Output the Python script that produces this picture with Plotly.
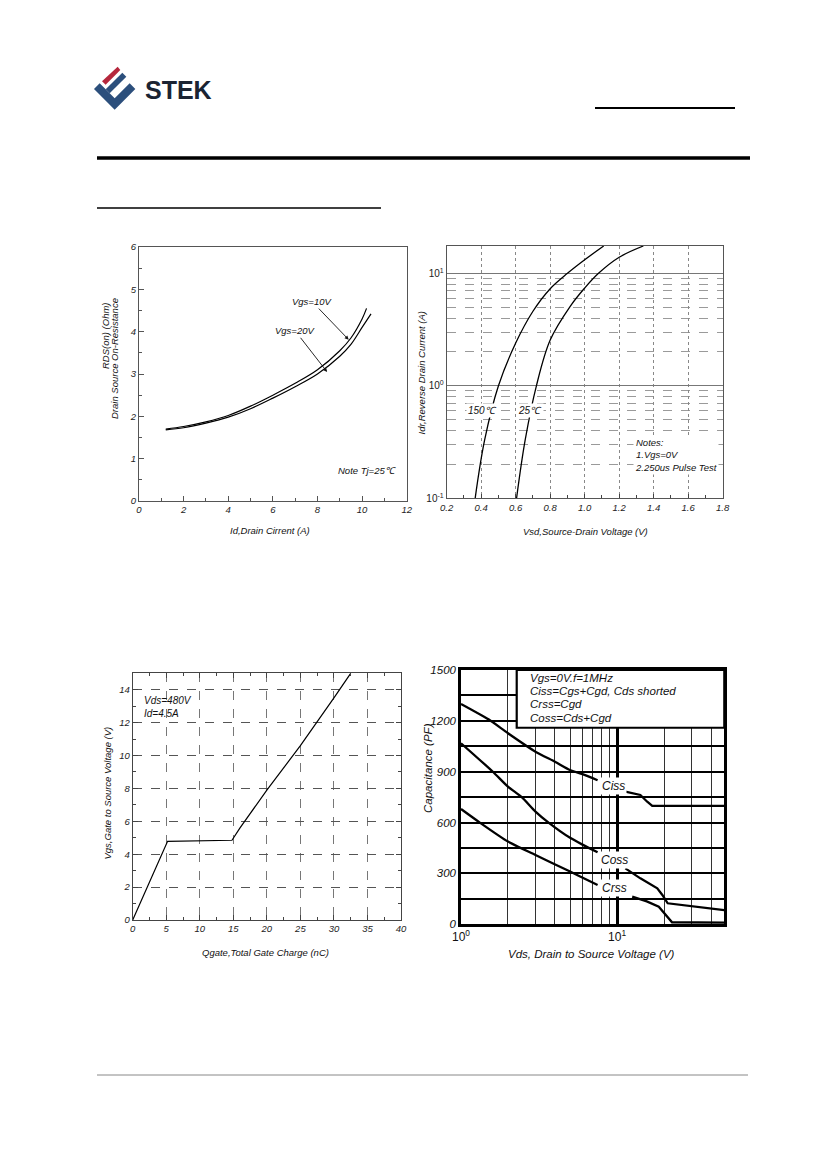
import math
import plotly.graph_objects as go

# ---------------- data ----------------
# Fig.1  RDS(on) vs drain current
id_vgs10 = [1.2, 2, 3, 4, 5, 6, 7, 8, 9, 9.5, 10, 10.2]
rds_vgs10 = [1.70, 1.76, 1.87, 2.02, 2.24, 2.50, 2.78, 3.10, 3.55, 3.85, 4.30, 4.55]
id_vgs20 = [1.2, 2, 3, 4, 5, 6, 7, 8, 9, 9.5, 10, 10.4]
rds_vgs20 = [1.68, 1.73, 1.84, 1.98, 2.18, 2.43, 2.70, 3.00, 3.42, 3.70, 4.10, 4.42]

# Fig.2  body diode forward voltage
vsd_150 = [0.365, 0.42, 0.50, 0.60, 0.70, 0.80, 0.90, 1.00, 1.11]
idr_150 = [0.1, 0.33, 1.0, 2.4, 4.6, 7.3, 10, 13.2, 17.5]
vsd_25 = [0.605, 0.655, 0.72, 0.80, 0.915, 1.00, 1.08, 1.20, 1.34]
idr_25 = [0.1, 0.33, 1.0, 2.55, 5.06, 7.4, 10, 13.9, 17.5]

# Fig.3  gate charge
qg = [0, 5.2, 14.8, 16, 20, 25, 30, 32.5]
vgs = [0, 4.78, 4.85, 5.6, 7.9, 10.6, 13.5, 15]

# Fig.4  capacitance (each curve is broken where its label sits)
ciss_v1 = [1, 1.5, 2, 3, 4, 5, 6, 7.5]
ciss_c1 = [1300, 1209, 1127, 1018, 959, 910, 886, 850]
ciss_v2 = [11.3, 14.1, 15.6, 16.8, 48.6]
ciss_c2 = [782, 763, 723, 698, 698]
coss_v1 = [1, 1.6, 2, 2.45, 3, 3.64, 5, 6, 7.5]
coss_c1 = [1068, 900, 812, 750, 665, 600, 510, 470, 425]
coss_v2 = [11.3, 14.1, 18.1, 19.5, 21.1, 29.6, 48.6]
coss_c2 = [330, 271, 212, 173, 124, 108, 84]
crss_v1 = [1, 1.32, 2, 3, 5, 6.5, 7.5]
crss_c1 = [680, 600, 488, 409, 311, 260, 232]
crss_v2 = [12.5, 15.5, 18.5, 20.4, 22.5, 48.6]
crss_c2 = [163, 135, 104, 55, 12, 10]

log_minor = [0.2, 0.3, 0.4, 0.5, 0.6, 0.7, 0.8, 0.9, 2, 3, 4, 5, 6, 7, 8, 9]
cap_minor = [2, 3, 4, 5, 6, 7, 8, 9, 20, 30, 40]

# ---------------- page helpers ----------------
# the page body keeps an 8px margin, so the figure is drawn 16px smaller
# and page pixel positions are shifted by 8
OFF = 8
W, H = 826 - 2 * OFF, 1169 - 2 * OFF
FONT = "Liberation Sans"


def px(x):
    return (x - OFF) / W


def py(y):
    return 1 - (y - OFF) / H


fig = go.Figure()

# Fig.1 curves
fig.add_trace(go.Scatter(x=id_vgs10, y=rds_vgs10, mode="lines", line=dict(color="black", width=1.2, shape="spline"),
                         xaxis="x", yaxis="y", showlegend=False))
fig.add_trace(go.Scatter(x=id_vgs20, y=rds_vgs20, mode="lines", line=dict(color="black", width=1.2, shape="spline"),
                         xaxis="x", yaxis="y", showlegend=False))

# Fig.2 curves
fig.add_trace(go.Scatter(x=vsd_150, y=idr_150, mode="lines", line=dict(color="black", width=1.3, shape="spline"),
                         xaxis="x2", yaxis="y2", showlegend=False))
fig.add_trace(go.Scatter(x=vsd_25, y=idr_25, mode="lines", line=dict(color="black", width=1.3, shape="spline"),
                         xaxis="x2", yaxis="y2", showlegend=False))

# Fig.3 curve
fig.add_trace(go.Scatter(x=qg, y=vgs, mode="lines", line=dict(color="black", width=1.2),
                         xaxis="x3", yaxis="y3", showlegend=False))

# Fig.4 curves: smooth first parts, sharp-cornered tails
for xs, ys in [(ciss_v1, ciss_c1), (coss_v1, coss_c1), (crss_v1, crss_c1)]:
    fig.add_trace(go.Scatter(x=xs, y=ys, mode="lines",
                             line=dict(color="black", width=2.3, shape="spline", smoothing=0.6),
                             xaxis="x4", yaxis="y4", showlegend=False))
for xs, ys in [(ciss_v2, ciss_c2), (coss_v2, coss_c2), (crss_v2, crss_c2)]:
    fig.add_trace(go.Scatter(x=xs, y=ys, mode="lines", line=dict(color="black", width=2.3),
                             xaxis="x4", yaxis="y4", showlegend=False))

tick_small = dict(family=FONT, size=9.5, color="#222", style="italic")
tick_big = dict(family=FONT, size=11.5, color="#111", style="italic")

box1 = dict(showline=True, mirror=True, linecolor="#555", linewidth=1, ticks="inside", automargin=False,
            tickcolor="#555", ticklen=5, showgrid=False, zeroline=False, tickfont=tick_small)

fig.update_layout(
    width=W, height=H, margin=dict(l=0, r=0, t=0, b=0, pad=0), autosize=False,
    paper_bgcolor="white", plot_bgcolor="white", showlegend=False,
    # Fig.1
    xaxis=dict(box1, domain=[px(139), px(406.7)], range=[0, 12], dtick=2, anchor="y",
               minor=dict(dtick=1, ticks="inside", ticklen=3, tickcolor="#555")),
    yaxis=dict(box1, domain=[py(501), py(247)], range=[0, 6], dtick=1, anchor="x",
               minor=dict(dtick=0.5, ticks="inside", ticklen=3, tickcolor="#555")),
    # Fig.2
    xaxis2=dict(showline=True, mirror=True, linecolor="#555", linewidth=1, ticks="inside", ticklen=4,
                tickcolor="#444", domain=[px(446.7), px(722.7)], range=[0.2, 1.8], dtick=0.2,
                tickformat=".1f", anchor="y2", zeroline=False, tickfont=tick_small, automargin=False,
                showgrid=True, gridcolor="#888", gridwidth=1, griddash="dot",
                minor=dict(dtick=0.1, ticks="inside", ticklen=3, tickcolor="#444")),
    yaxis2=dict(type="log", showline=True, mirror=True, linecolor="#555", linewidth=1, ticks="",
                domain=[py(498.3), py(246)], range=[-1, 1.243], anchor="x2", automargin=False,
                tickvals=[0.1, 1, 10], ticktext=["10<sup>-1</sup>", "10<sup>0</sup>", "10<sup>1</sup>"],
                tickfont=dict(family=FONT, size=10, color="#222"),
                showgrid=True, gridcolor="#777", gridwidth=1,
                minor=dict(tickvals=log_minor, showgrid=True, gridcolor="#9a9a9a",
                           gridwidth=0.8, griddash="dash")),
    # Fig.3
    xaxis3=dict(showline=True, mirror="ticks", linecolor="#444", linewidth=1, ticks="inside", ticklen=5,
                tickcolor="#444", domain=[px(132.7), px(401)], range=[0, 40], dtick=5, anchor="y3",
                zeroline=False, tickfont=tick_small, showgrid=True, gridcolor="#777", gridwidth=1,
                griddash="dash", automargin=False,
                minor=dict(dtick=2.5, ticks="inside", ticklen=3, tickcolor="#444")),
    yaxis3=dict(showline=True, mirror="ticks", linecolor="#444", linewidth=1, ticks="inside", ticklen=5,
                tickcolor="#444", domain=[py(920), py(673.3)], range=[0, 15], dtick=2, anchor="x3",
                zeroline=False, tickfont=tick_small, showgrid=True, gridcolor="#555", gridwidth=1,
                griddash="dash", automargin=False,
                minor=dict(dtick=1, ticks="inside", ticklen=3, tickcolor="#444")),
    # Fig.4
    xaxis4=dict(type="log", showline=True, mirror=True, linecolor="black", linewidth=2.5, ticks="",
                domain=[px(461), px(724.3)], range=[0, 1.687], anchor="y4", automargin=False,
                tickvals=[1, 10], ticktext=["10<sup>0</sup>", "10<sup>1</sup>"],
                tickfont=dict(family=FONT, size=12, color="#111"),
                showgrid=True, gridcolor="black", gridwidth=3,
                minor=dict(tickvals=cap_minor, showgrid=True, gridcolor="#333", gridwidth=1.4)),
    yaxis4=dict(showline=True, mirror=True, linecolor="black", linewidth=2.5, ticks="",
                domain=[py(924.3), py(670)], range=[0, 1500], dtick=300, anchor="x4",
                zeroline=False, tickfont=tick_big, automargin=False,
                showgrid=True, gridcolor="black", gridwidth=2,
                minor=dict(dtick=150, showgrid=True, gridcolor="black", gridwidth=2)),
)

ann = []


def text(x, y, s, size=9.5, xref="paper", yref="paper", angle=0, xanchor="center", **kw):
    ann.append(dict(x=x, y=y, text=s, xref=xref, yref=yref, showarrow=False, textangle=angle,
                    xanchor=xanchor, yanchor="middle",
                    font=dict(family=FONT, size=size, color="#111", style="italic"), **kw))


# axis titles
text(px(105), py(336), "RDS(on) (Ohm)", angle=-90)
text(px(114), py(359), "Drain Source On-Resistance", angle=-90)
text(px(270), py(530), "Id,Drain Cirrent (A)")
text(px(421.5), py(373), "Idr,Reverse Drain Current (A)", angle=-90)
text(px(585), py(531), "Vsd,Source-Drain Voltage (V)")
text(px(106.5), py(793), "Vgs,Gate to Source Voltage (V)", angle=-90)
text(px(265), py(952), "Qgate,Total Gate Charge (nC)")
text(px(428), py(768), "Capacitance (PF)", size=11.5, angle=-90)
text(px(591), py(954), "Vds, Drain to Source Voltage (V)", size=11.5)

# Fig.1 labels with arrows
for s, tx, ty, hx, hy in [("Vgs=10V", 7.76, 4.71, 9.4, 3.81), ("Vgs=20V", 7.0, 4.02, 8.43, 3.05)]:
    ann.append(dict(x=hx, y=hy, ax=tx, ay=ty, xref="x", yref="y", axref="x", ayref="y", text=s,
                    showarrow=True, arrowhead=2, arrowsize=0.9, arrowwidth=0.9, arrowcolor="#111",
                    font=dict(family=FONT, size=9.5, color="#111", style="italic")))
text(10.2, 0.73, "Note Tj=25℃", xref="x", yref="y")

# Fig.2 labels
text(0.41, -0.22, "150℃", size=10, xref="x2", yref="y2", bgcolor="white")
text(0.683, -0.22, "25℃", size=10, xref="x2", yref="y2", bgcolor="white")
ann.append(dict(x=1.28, y=-0.613, xref="x2", yref="y2", showarrow=False, align="left",
                xanchor="left", yanchor="middle", bgcolor="white",
                text="Notes:<br>1.Vgs=0V<br>2.250us Pulse Test",
                font=dict(family=FONT, size=9.5, color="#111", style="italic")))

# Fig.3 conditions
ann.append(dict(x=1.4, y=12.95, xref="x3", yref="y3", showarrow=False, align="left",
                xanchor="left", yanchor="middle", text="Vds=480V<br>Id=4.5A",
                font=dict(family=FONT, size=10, color="#111", style="italic")))

# Fig.4 curve names and condition box
for s, vx, cy in [("Ciss", 9.5, 816), ("Coss", 9.6, 379), ("Crss", 9.6, 212)]:
    text(math.log10(vx), cy, s, size=12, xref="x4", yref="y4", bgcolor="white")
for s, fy in [("Vgs=0V.f=1MHz", 0.969), ("Ciss=Cgs+Cgd, Cds shorted", 0.917),
              ("Crss=Cgd", 0.866), ("Coss=Cds+Cgd", 0.811)]:
    text(0.254, fy, s, size=11.5, xref="x4 domain", yref="y4 domain", xanchor="left")

fig.update_layout(annotations=ann)

shapes = [
    # condition box on the capacitance chart
    dict(type="rect", xref="x4 domain", yref="y4 domain", x0=0.2116, x1=1, y0=0.773, y1=1,
         fillcolor="white", line=dict(color="black", width=2.2), layer="above"),
    # page rules
    dict(type="line", xref="paper", yref="paper", x0=px(595), x1=px(735), y0=py(108), y1=py(108),
         line=dict(color="black", width=2)),
    dict(type="line", xref="paper", yref="paper", x0=px(97), x1=px(750), y0=py(158), y1=py(158),
         line=dict(color="black", width=3.5)),
    dict(type="line", xref="paper", yref="paper", x0=px(97), x1=px(381), y0=py(208), y1=py(208),
         line=dict(color="black", width=1.6)),
    dict(type="line", xref="paper", yref="paper", x0=px(97), x1=px(748), y0=py(1075), y1=py(1075),
         line=dict(color="#888", width=1)),
]


def logo_path(pts):
    # pts are in logo-crop pixels (3x crop at 93,64)
    out = []
    for i, (zx, zy) in enumerate(pts):
        out.append(("M" if i == 0 else "L") + f"{px(93 + zx / 3):.5f},{py(64 + zy / 3):.5f}")
    return " ".join(out) + " Z"


blue = "#2c4f7c"
for pts, col in [
    ([(3, 75), (20, 58), (65, 103), (110, 58), (127, 75), (65, 137)], blue),
    ([(38, 76), (88, 26), (100, 38), (50, 88)], blue),
    ([(27, 52), (74, 8), (82, 18), (38, 62)], "#b5273c"),
]:
    shapes.append(dict(type="path", xref="paper", yref="paper", path=logo_path(pts),
                       fillcolor=col, line=dict(width=0)))

fig.update_layout(shapes=shapes)
fig.add_annotation(x=px(143), y=py(90), xref="paper", yref="paper", text="<b>STEK</b>", showarrow=False,
                   xanchor="left", yanchor="middle", font=dict(family=FONT, size=25, color="#1b2433"))

fig.write_html("out.html")
